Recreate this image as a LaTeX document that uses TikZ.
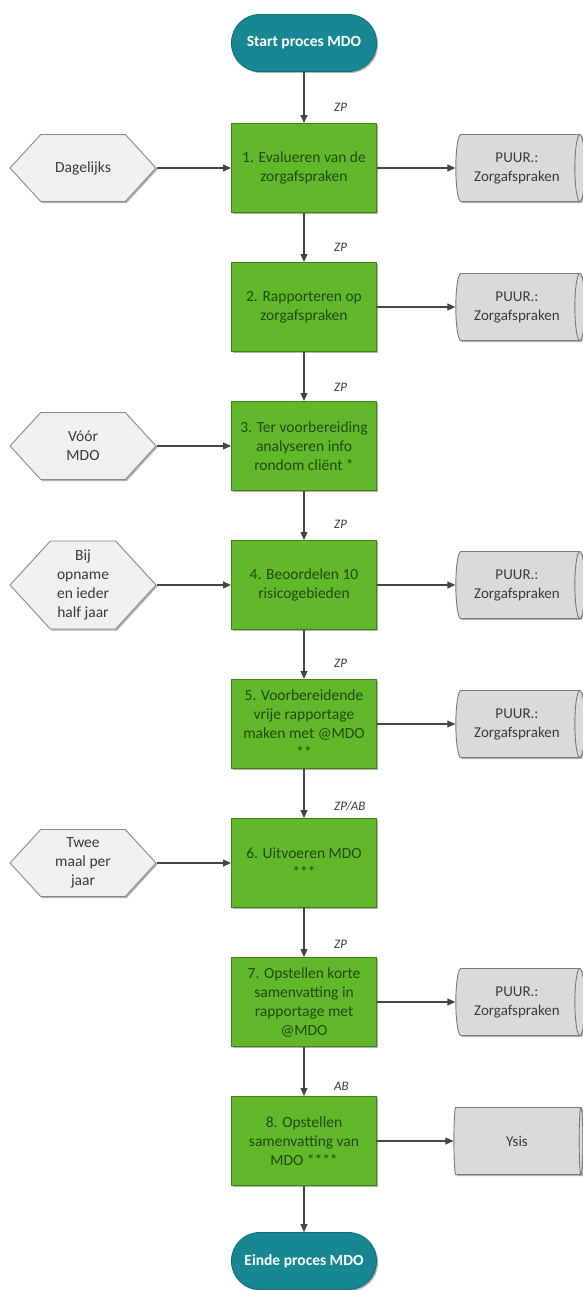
\documentclass[tikz,border=0pt]{standalone}
\usepackage{fontspec}
\setmainfont{Carlito}
\usetikzlibrary{shapes.geometric,shapes.symbols,arrows.meta,shadows}
\definecolor{tealmdo}{HTML}{178893}
\definecolor{boxgreen}{HTML}{62B82A}
\definecolor{boxborder}{HTML}{3F7F1C}
\definecolor{boxtext}{HTML}{1F4A0D}
\definecolor{hexfill}{HTML}{F0F0F0}
\definecolor{hexborder}{HTML}{8A8A8A}
\definecolor{cylfill}{HTML}{DADADA}
\definecolor{cylborder}{HTML}{7A7A7A}
\definecolor{darkgrey}{HTML}{3A3A3A}
\definecolor{arrgrey}{HTML}{454545}
\begin{document}
\begin{tikzpicture}[x=1pt,y=-1pt,
  every node/.style={font=\fontsize{15.5}{19}\selectfont, align=center},
  shad/.style={drop shadow={shadow xshift=1.5pt,shadow yshift=-1.5pt,opacity=0.3,fill=black}},
  term/.style={rectangle, rounded corners=28pt, fill=tealmdo, draw=tealmdo!80!black, line width=0.8pt,
    minimum width=145pt, minimum height=57pt, text=white, font=\fontsize{15.5}{18}\selectfont\bfseries, shad},
  proc/.style={rectangle, draw=boxborder, fill=boxgreen, text=boxtext, line width=1pt,
    minimum width=145pt, minimum height=89pt, inner sep=2pt, shad},
  hexa/.style={signal, signal to=west and east, signal pointer angle=95, draw=hexborder, fill=hexfill,
    text=darkgrey, line width=0.9pt, minimum width=146pt, minimum height=67pt, inner sep=1pt, shad},
  cyl/.style={cylinder, shape border rotate=0, shape aspect=0.3, draw=cylborder, fill=cylfill,
    text=darkgrey, line width=0.9pt, minimum width=67pt, minimum height=129pt, inner sep=1pt,
    font=\fontsize{15}{19}\selectfont, shad},
  lab/.style={anchor=west, text=darkgrey, font=\fontsize{13}{15}\selectfont\itshape, inner sep=0pt},
  arr/.style={draw=arrgrey, line width=1.1pt, -{Triangle[length=8pt,width=7pt]}}
]
\useasboundingbox (0,0) rectangle (582,1290);

% main column
\node[term] (start) at (304,43) {Start proces MDO};
\node[proc] (b1) at (304,168) {1. Evalueren van de\\zorgafspraken};
\node[proc] (b2) at (304,307) {2. Rapporteren op\\zorgafspraken};
\node[proc] (b3) at (304,446) {3. Ter voorbereiding\\analyseren info\\rondom cliënt *};
\node[proc] (b4) at (304,585) {4. Beoordelen 10\\risicogebieden};
\node[proc] (b5) at (304,724) {5. Voorbereidende\\vrije rapportage\\maken met @MDO\\**};
\node[proc] (b6) at (304,863) {6. Uitvoeren MDO\\***};
\node[proc] (b7) at (304,1002) {7. Opstellen korte\\samenvatting in\\rapportage met\\@MDO};
\node[proc] (b8) at (304,1141) {8. Opstellen\\samenvatting van\\MDO ****};
\node[term] (end) at (304,1261) {Einde proces MDO};

% left triggers
\node[hexa] (h1) at (83,168) {Dagelijks};
\node[hexa] (h3) at (83,446) {Vóór\\MDO};
\node[hexa, minimum height=88pt] (h4) at (83,585) {Bij\\opname\\en ieder\\half jaar};
\node[hexa] (h6) at (83,863) {Twee\\maal per\\jaar};

% right systems
\node[cyl] (c1) at (517,168) {PUUR.:\\Zorgafspraken};
\node[cyl] (c2) at (517,307) {PUUR.:\\Zorgafspraken};
\node[cyl] (c4) at (517,585) {PUUR.:\\Zorgafspraken};
\node[cyl] (c5) at (517,724) {PUUR.:\\Zorgafspraken};
\node[cyl] (c7) at (517,1002) {PUUR.:\\Zorgafspraken};
\node[cyl] (c8) at (517,1141) {Ysis};

% role labels
\node[lab] (l1) at (334,107) {ZP};
\node[lab] (l2) at (334,247) {ZP};
\node[lab] (l3) at (334,387) {ZP};
\node[lab] (l4) at (334,524) {ZP};
\node[lab] (l5) at (334,663) {ZP};
\node[lab] (l6) at (334,806) {ZP/AB};
\node[lab] (l7) at (334,944) {ZP};
\node[lab] (l8) at (334,1086) {AB};

% vertical flow
\draw[arr] (start) -- (b1);
\draw[arr] (b1) -- (b2);
\draw[arr] (b2) -- (b3);
\draw[arr] (b3) -- (b4);
\draw[arr] (b4) -- (b5);
\draw[arr] (b5) -- (b6);
\draw[arr] (b6) -- (b7);
\draw[arr] (b7) -- (b8);
\draw[arr] (b8) -- (end);

% triggers
\draw[arr] (h1.east) -- (b1.west);
\draw[arr] (h3.east) -- (b3.west);
\draw[arr] (h4.east) -- (b4.west);
\draw[arr] (h6.east) -- (b6.west);

% outputs
\draw[arr] (b1.east) -- (c1.west);
\draw[arr] (b2.east) -- (c2.west);
\draw[arr] (b4.east) -- (c4.west);
\draw[arr] (b5.east) -- (c5.west);
\draw[arr] (b7.east) -- (c7.west);
\draw[arr] (b8.east) -- (c8.west);
\end{tikzpicture}
\end{document}
